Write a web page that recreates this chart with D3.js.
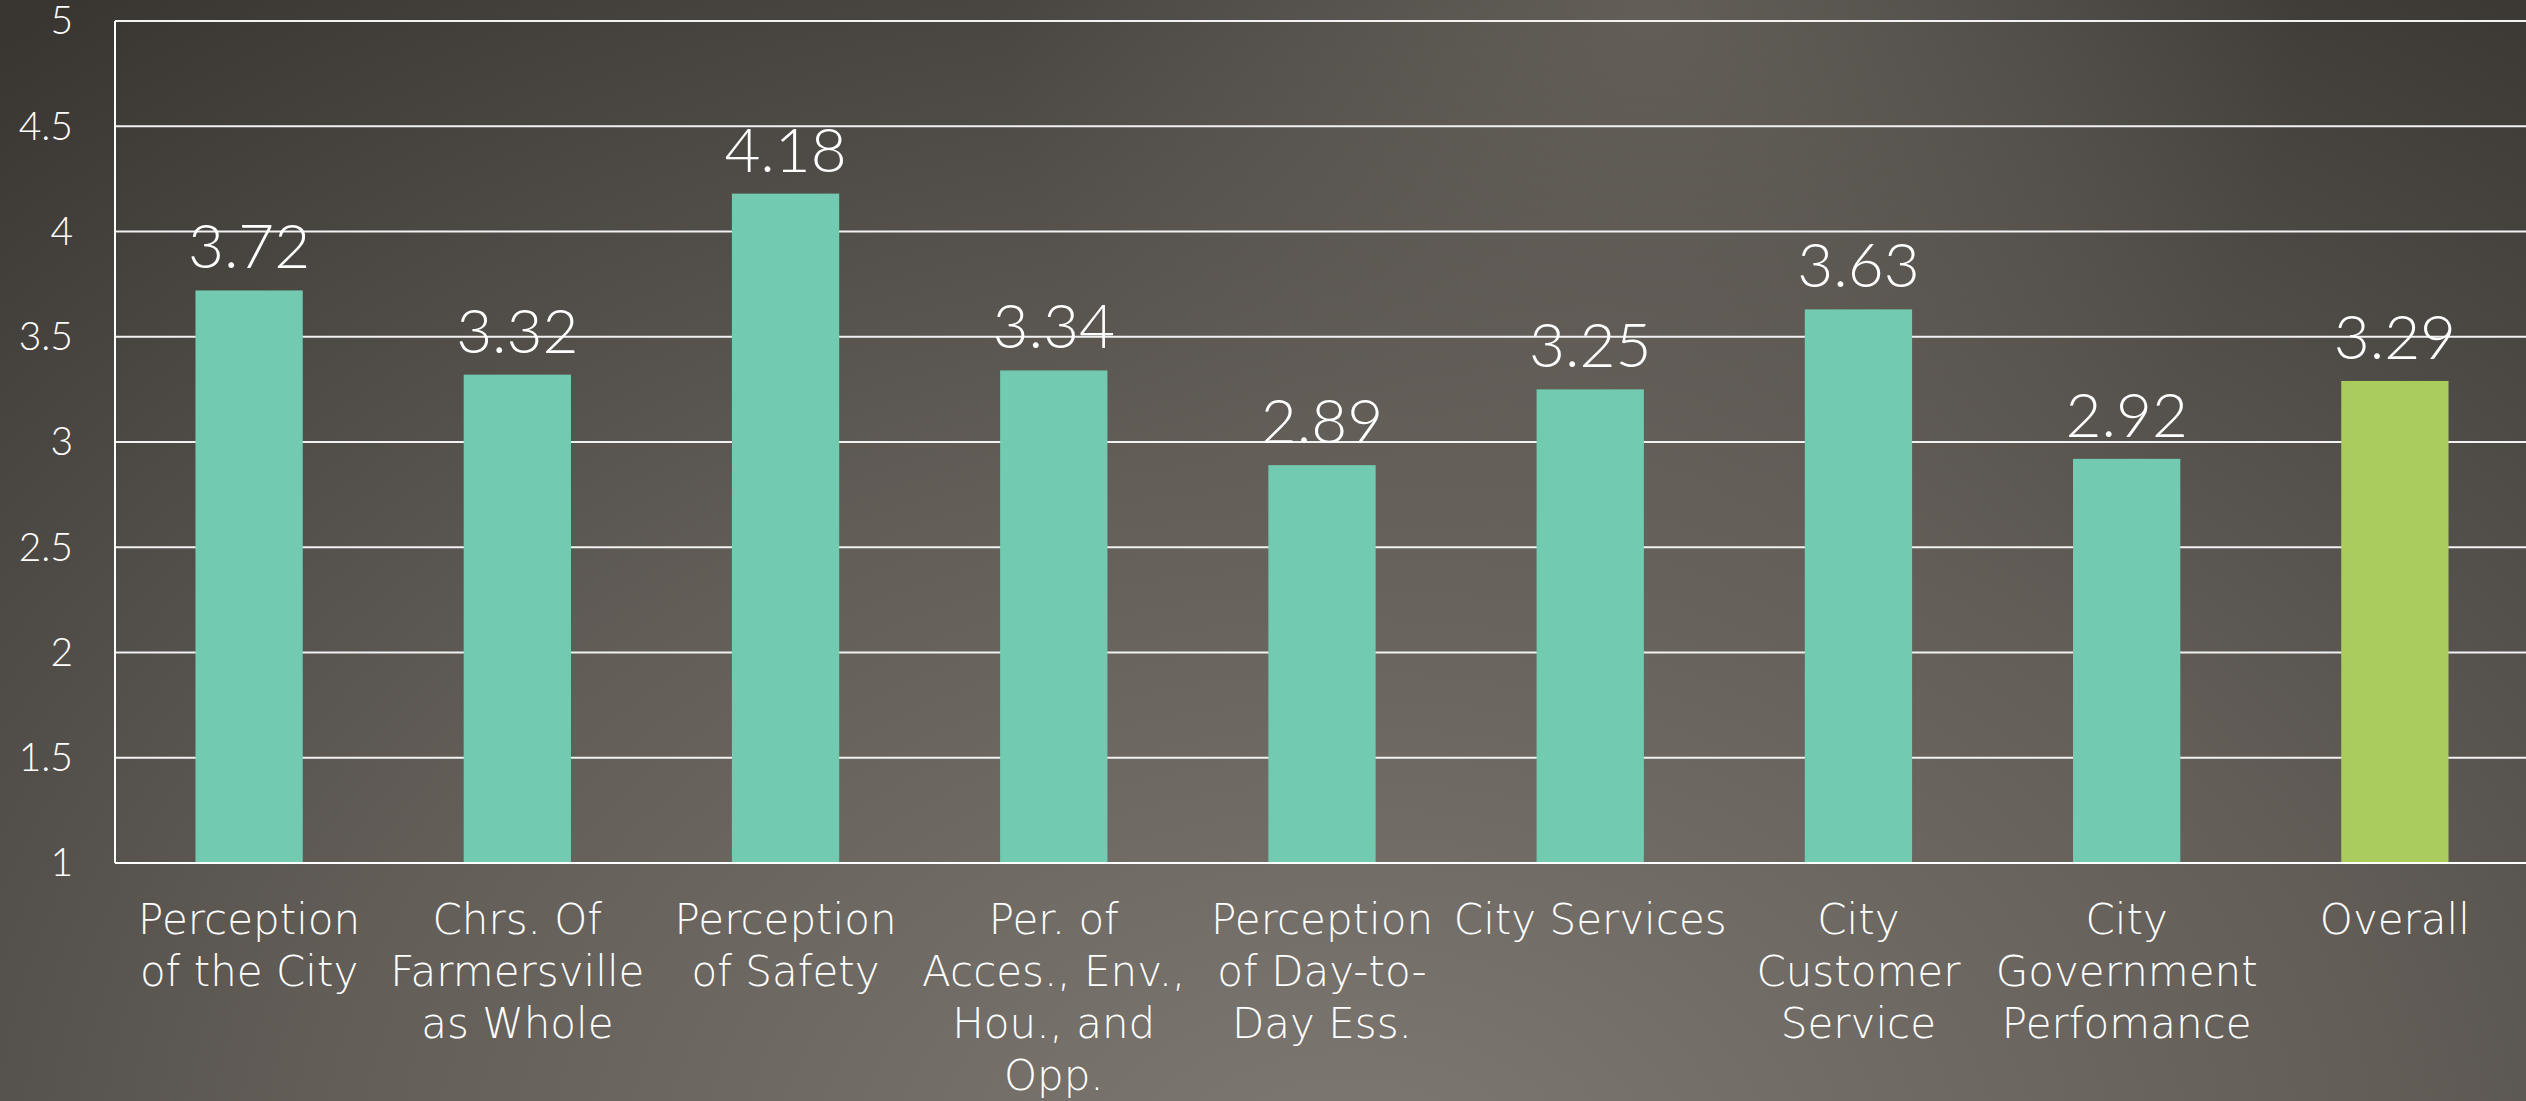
<!DOCTYPE html>
<html>
<head>
<meta charset="utf-8">
<script src="https://cdn.jsdelivr.net/npm/d3@7/dist/d3.min.js"></script>
<style>
  html, body { margin: 0; padding: 0; background: #4a4641; overflow: hidden; }
  svg { display: block; }
  .tick-label, .value-label {
    font-family: Lato, "Open Sans", sans-serif;
    font-weight: 300;
    fill: #ffffff;
  }
  .cat-label {
    font-family: "DejaVu Sans", sans-serif;
    font-weight: 200;
    fill: #ffffff;
  }
</style>
</head>
<body>
<div id="chart"></div>
<script>
// data
const categories = [
  "Perception\nof the City",
  "Chrs. Of\nFarmersville\nas Whole",
  "Perception\nof Safety",
  "Per. of\nAcces., Env.,\nHou., and\nOpp.",
  "Perception\nof Day-to-\nDay Ess.",
  "City Services",
  "City\nCustomer\nService",
  "City\nGovernment\nPerfomance",
  "Overall"
];
const scores = [3.72, 3.32, 4.18, 3.34, 2.89, 3.25, 3.63, 2.92, 3.29];
const yTicks = [1, 1.5, 2, 2.5, 3, 3.5, 4, 4.5, 5];

const width = 2526;
const height = 1101;
const plot = { left: 115, right: 2529, top: 21, bottom: 863 };

const svg = d3.select("#chart")
  .append("svg")
  .attr("width", width)
  .attr("height", height);

// background
const defs = svg.append("defs");
const bg = defs.append("radialGradient")
  .attr("id", "bg")
  .attr("gradientUnits", "userSpaceOnUse")
  .attr("cx", 1350).attr("cy", 1200)
  .attr("r", 2100)
  .attr("gradientTransform", "translate(1350,1200) scale(1,0.72) translate(-1350,-1200)");
bg.append("stop").attr("offset", "0%").attr("stop-color", "#7e7972");
bg.append("stop").attr("offset", "50%").attr("stop-color", "#625d57");
bg.append("stop").attr("offset", "100%").attr("stop-color", "#393632");

const glow = defs.append("radialGradient")
  .attr("id", "glow")
  .attr("gradientUnits", "userSpaceOnUse")
  .attr("cx", 1650).attr("cy", 0)
  .attr("r", 650);
glow.append("stop").attr("offset", "0%").attr("stop-color", "#6b665f").attr("stop-opacity", 0.75);
glow.append("stop").attr("offset", "100%").attr("stop-color", "#6b665f").attr("stop-opacity", 0);

svg.append("rect").attr("width", width).attr("height", height).attr("fill", "url(#bg)");
svg.append("rect").attr("width", width).attr("height", height).attr("fill", "url(#glow)");

// scales
const x = d3.scaleBand()
  .domain(categories)
  .range([plot.left, plot.right])
  .paddingInner(0.6)
  .paddingOuter(0.3);

const y = d3.scaleLinear()
  .domain([1, 5])
  .range([plot.bottom, plot.top]);

const color = d => d === "Overall" ? "#aacc5c" : "#72cbb1";

// gridlines
svg.append("g")
  .selectAll("line")
  .data(yTicks.slice(1))
  .join("line")
  .attr("x1", plot.left)
  .attr("x2", plot.right)
  .attr("y1", d => y(d))
  .attr("y2", d => y(d))
  .attr("stroke", "#f2f2f2")
  .attr("stroke-width", 2);

// y tick labels
svg.append("g")
  .selectAll("text")
  .data(yTicks)
  .join("text")
  .attr("class", "tick-label")
  .attr("x", plot.left - 42)
  .attr("y", d => y(d))
  .attr("dy", "0.34em")
  .attr("text-anchor", "end")
  .attr("font-size", 39)
  .text(d => d);

// bars
svg.append("g")
  .selectAll("rect")
  .data(categories)
  .join("rect")
  .attr("x", d => x(d))
  .attr("width", x.bandwidth())
  .attr("y", (d, i) => y(scores[i]))
  .attr("height", (d, i) => y(1) - y(scores[i]))
  .attr("fill", d => color(d));

// axes lines
svg.append("line")
  .attr("x1", plot.left).attr("x2", plot.left)
  .attr("y1", plot.top).attr("y2", plot.bottom)
  .attr("stroke", "#ffffff").attr("stroke-width", 2);
svg.append("line")
  .attr("x1", plot.left).attr("x2", plot.right)
  .attr("y1", plot.bottom).attr("y2", plot.bottom)
  .attr("stroke", "#ffffff").attr("stroke-width", 2);

// value labels
svg.append("g")
  .selectAll("text")
  .data(categories)
  .join("text")
  .attr("class", "value-label")
  .attr("x", d => x(d) + x.bandwidth() / 2)
  .attr("y", (d, i) => y(scores[i]) - 22)
  .attr("text-anchor", "middle")
  .attr("font-size", 62)
  .text((d, i) => scores[i].toFixed(2));

// category labels
const catLabels = svg.append("g")
  .selectAll("text")
  .data(categories)
  .join("text")
  .attr("class", "cat-label")
  .attr("text-anchor", "middle")
  .attr("font-size", 42)
  .attr("x", d => x(d) + x.bandwidth() / 2)
  .attr("y", 934);

catLabels.selectAll("tspan")
  .data(d => d.split("\n").map(line => ({ line, cx: x(d) + x.bandwidth() / 2 })))
  .join("tspan")
  .attr("x", d => d.cx)
  .attr("dy", (d, i) => i === 0 ? 0 : 52)
  .text(d => d.line);
</script>
</body>
</html>
